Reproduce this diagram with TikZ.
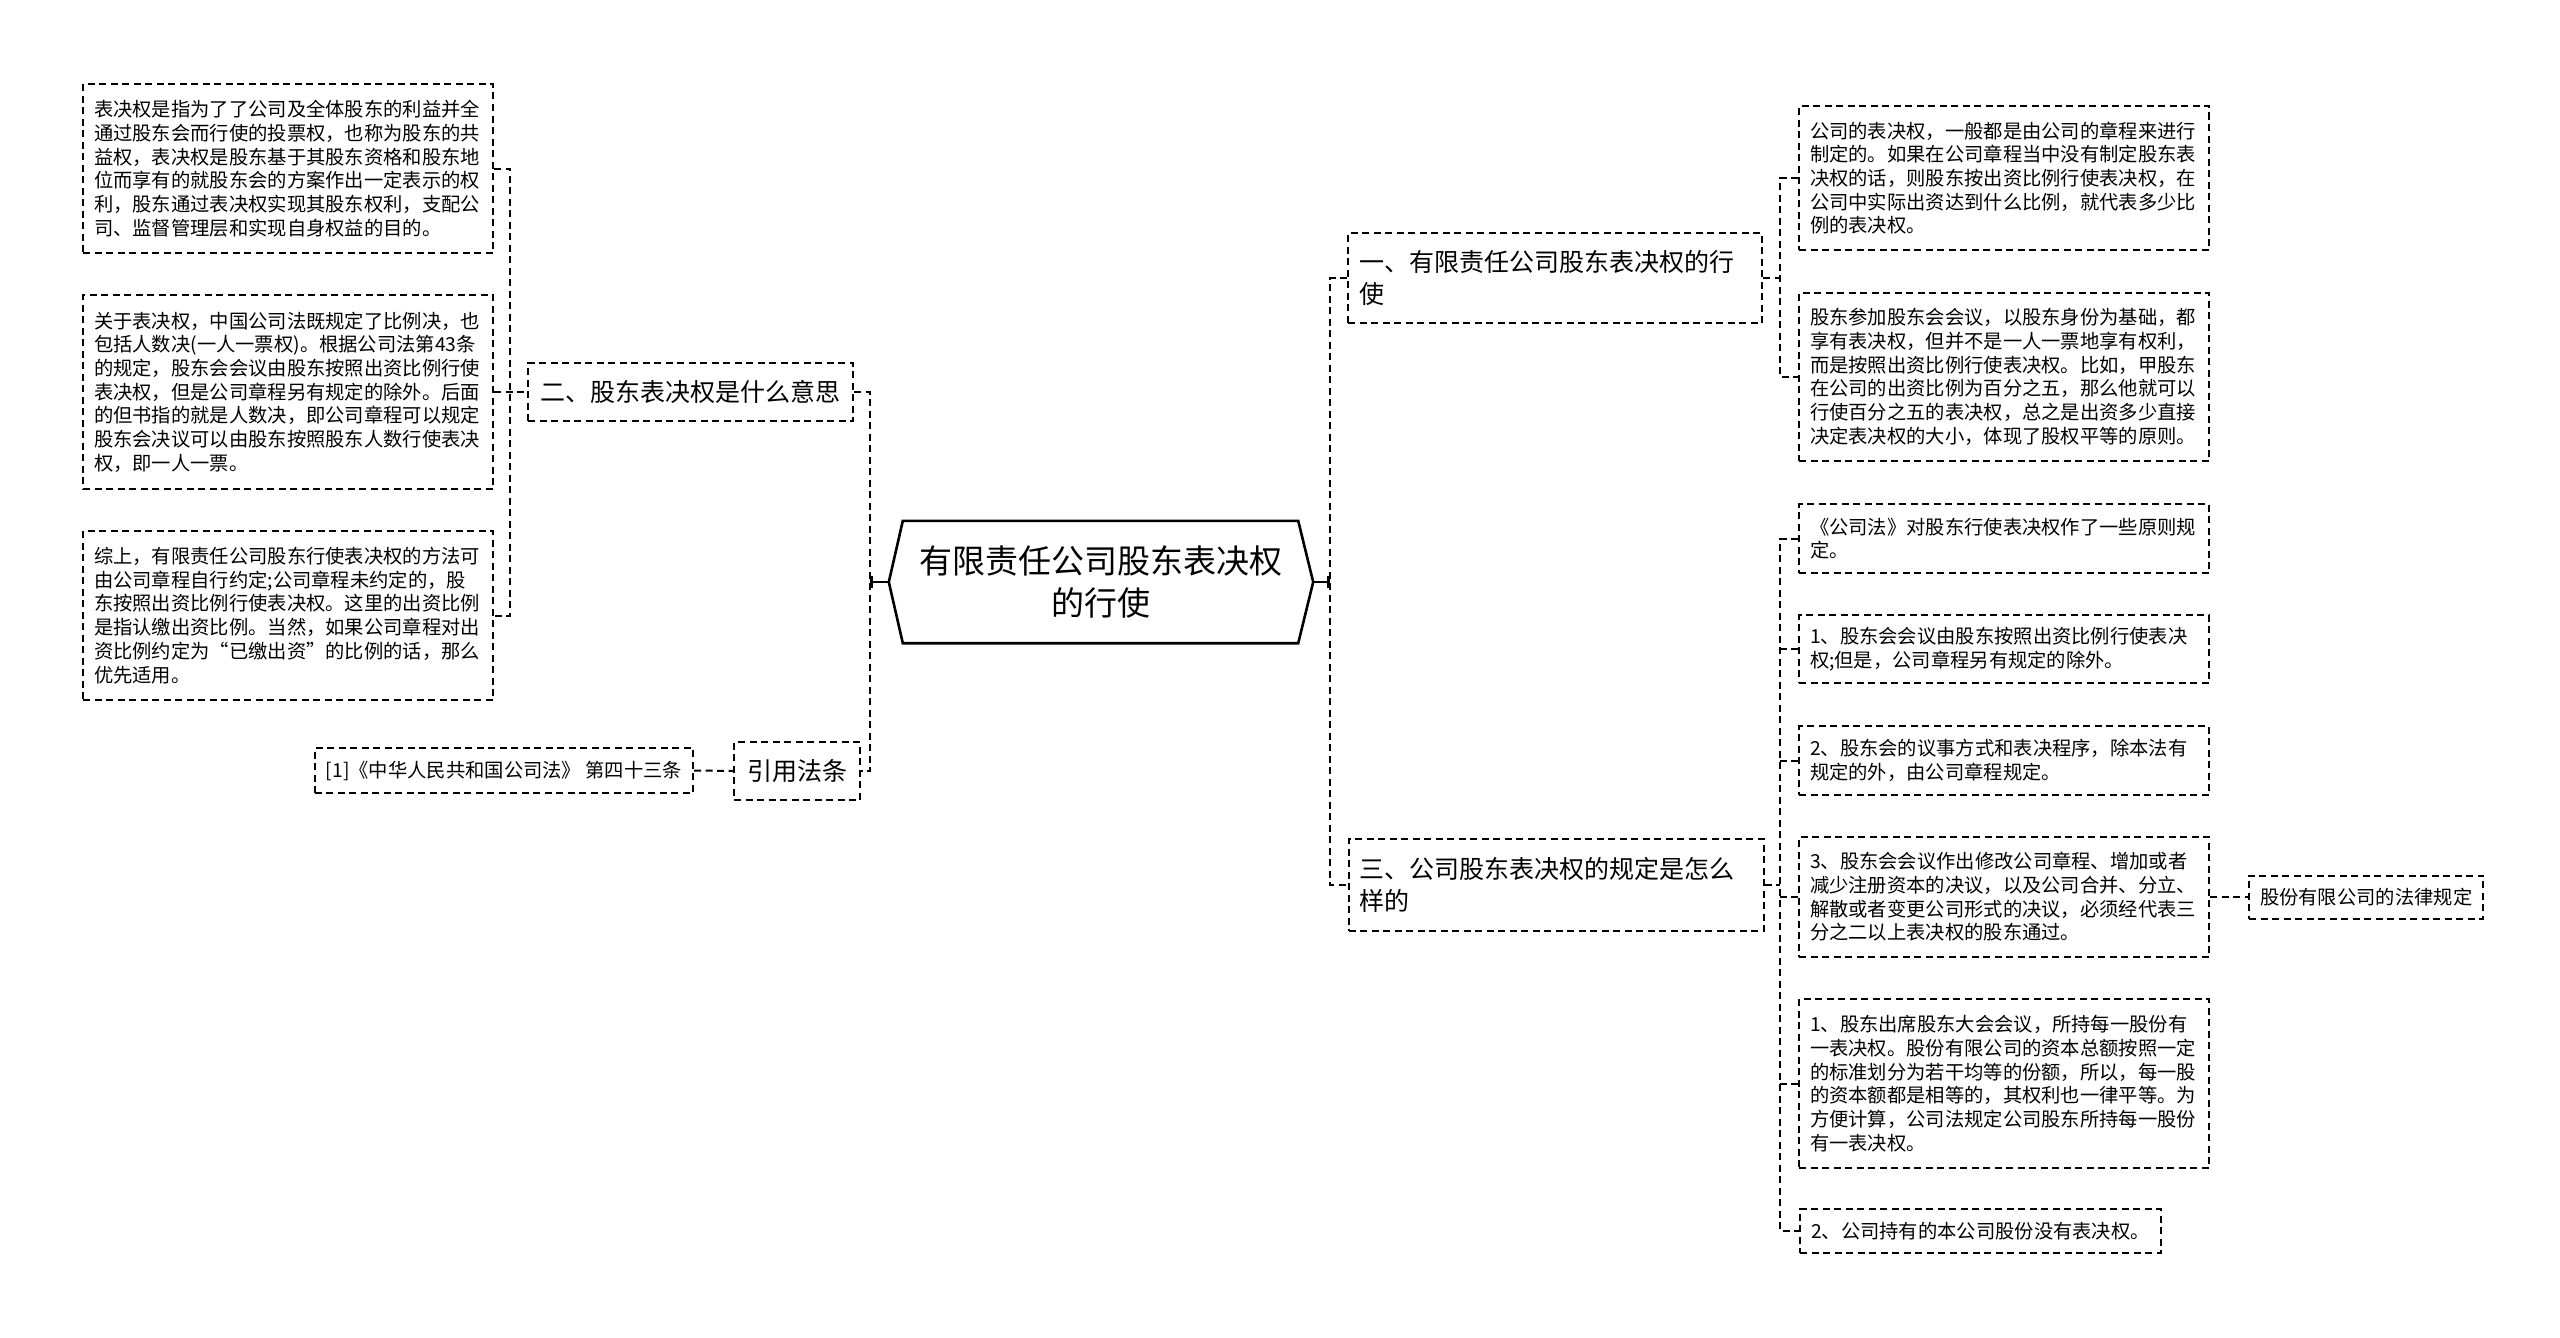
\documentclass[tikz,border=0pt]{standalone}
\usepackage{fontspec}
\setmainfont{Noto Sans CJK SC}
\usetikzlibrary{arrows.meta}
\tikzset{
  conn/.style={line width=2pt, dash pattern=on 7pt off 4.5pt},
  rootline/.style={line width=2.6pt},
  leaf/.style={draw, conn, align=left, text width=388pt, inner xsep=11pt, inner ysep=6pt,
    font=\fontsize{19.3}{23.7}\selectfont},
  smallleaf/.style={draw, conn, align=left, inner xsep=11pt, minimum height=44pt,
    font=\fontsize{19.3}{23.7}\selectfont},
  topic/.style={draw, conn, align=left, inner xsep=11pt,
    font=\fontsize{25}{32}\selectfont},
}
\begin{document}
\begin{tikzpicture}[x=1pt, y=-1pt]
    \useasboundingbox[fill=white] (0,0) rectangle (2560,1338);

    % root
    \node[align=center, minimum width=424pt, minimum height=122pt,
          font=\fontsize{33}{42}\selectfont] (root) at (1101,582)
          {有限责任公司股东表决权\\的行使};
    \draw[rootline] ([xshift=14pt]root.north west) -- ([xshift=-15pt]root.north east)
        -- (root.east) -- ([xshift=-15pt]root.south east)
        -- ([xshift=14pt]root.south west) -- (root.west) -- cycle;

    % left topics
    \node[topic, align=center, minimum width=325pt, minimum height=58pt] (meaning) at (690.5,392)
          {二、股东表决权是什么意思};
    \node[topic, align=center, minimum width=126pt, minimum height=58pt] (cite) at (797,771)
          {引用法条};
    \node[smallleaf, minimum height=45pt] (lawref) at (504,770.5)
          {[1]《中华人民共和国公司法》 第四十三条};

    % meaning details
    \node[leaf, minimum height=169pt] (meanA) at (288,168.5)
          {表决权是指为了了公司及全体股东的利益并全\\
           通过股东会而行使的投票权，也称为股东的共\\
           益权，表决权是股东基于其股东资格和股东地\\
           位而享有的就股东会的方案作出一定表示的权\\
           利，股东通过表决权实现其股东权利，支配公\\
           司、监督管理层和实现自身权益的目的。};
    \node[leaf, minimum height=194pt] (meanB) at (288,392)
          {关于表决权，中国公司法既规定了比例决，也\\
           包括人数决(一人一票权)。根据公司法第43条\\
           的规定，股东会会议由股东按照出资比例行使\\
           表决权，但是公司章程另有规定的除外。后面\\
           的但书指的就是人数决，即公司章程可以规定\\
           股东会决议可以由股东按照股东人数行使表决\\
           权，即一人一票。};
    \node[leaf, minimum height=169pt] (meanC) at (288,615.5)
          {综上，有限责任公司股东行使表决权的方法可\\
           由公司章程自行约定;公司章程未约定的，股\\
           东按照出资比例行使表决权。这里的出资比例\\
           是指认缴出资比例。当然，如果公司章程对出\\
           资比例约定为“已缴出资”的比例的话，那么\\
           优先适用。};

    % right topics
    \node[topic, text width=392pt, minimum height=90pt] (exercise) at (1555,278)
          {一、有限责任公司股东表决权的行\\使};
    \node[topic, text width=393pt, minimum height=92pt] (rules) at (1556,885)
          {三、公司股东表决权的规定是怎么\\样的};

    % exercise details
    \node[leaf, minimum height=144pt] (exerA) at (2004,178)
          {公司的表决权，一般都是由公司的章程来进行\\
           制定的。如果在公司章程当中没有制定股东表\\
           决权的话，则股东按出资比例行使表决权，在\\
           公司中实际出资达到什么比例，就代表多少比\\
           例的表决权。};
    \node[leaf, minimum height=168pt] (exerB) at (2004,377)
          {股东参加股东会会议，以股东身份为基础，都\\
           享有表决权，但并不是一人一票地享有权利，\\
           而是按照出资比例行使表决权。比如，甲股东\\
           在公司的出资比例为百分之五，那么他就可以\\
           行使百分之五的表决权，总之是出资多少直接\\
           决定表决权的大小，体现了股权平等的原则。};

    % rules details
    \node[leaf, minimum height=69pt] (ruleA) at (2004,538.5)
          {《公司法》对股东行使表决权作了一些原则规\\定。};
    \node[leaf, minimum height=68pt] (ruleB) at (2004,649)
          {1、股东会会议由股东按照出资比例行使表决\\权;但是，公司章程另有规定的除外。};
    \node[leaf, minimum height=69pt] (ruleC) at (2004,760.5)
          {2、股东会的议事方式和表决程序，除本法有\\规定的外，由公司章程规定。};
    \node[leaf, minimum height=120pt] (ruleD) at (2004,897)
          {3、股东会会议作出修改公司章程、增加或者\\
           减少注册资本的决议，以及公司合并、分立、\\
           解散或者变更公司形式的决议，必须经代表三\\
           分之二以上表决权的股东通过。};
    \node[leaf, minimum height=169pt] (ruleE) at (2004,1083.5)
          {1、股东出席股东大会会议，所持每一股份有\\
           一表决权。股份有限公司的资本总额按照一定\\
           的标准划分为若干均等的份额，所以，每一股\\
           的资本额都是相等的，其权利也一律平等。为\\
           方便计算，公司法规定公司股东所持每一股份\\
           有一表决权。};
    \node[smallleaf, anchor=west] (ruleF) at (1799,1231)
          {2、公司持有的本公司股份没有表决权。};
    \node[smallleaf, minimum height=43pt, anchor=west] (stock) at (2248,897)
          {股份有限公司的法律规定};

    % bus lines
    \coordinate (lsub) at (510,0);
    \coordinate (lbus) at (870,0);
    \coordinate (rbus) at (1330,0);
    \coordinate (rsub) at (1780,0);

    % left connectors
    \draw[rootline, -{Bar[width=12pt, line width=2.6pt]}] (root.west) -- (root.west -| lbus);
    \draw[conn] (meaning.east) -- (meaning.east -| lbus) -- (cite.east -| lbus) -- (cite.east);
    \draw[conn] (lawref.east) -- (cite.west);
    \draw[conn] (meanA.east) -- (meanA.east -| lsub) -- (meanC.east -| lsub) -- (meanC.east);
    \draw[conn] (meanB.east) -- (meaning.west);

    % right connectors
    \draw[rootline, -{Bar[width=12pt, line width=2.6pt]}] (root.east) -- (root.east -| rbus);
    \draw[conn] (exercise.west) -- (exercise.west -| rbus) -- (rules.west -| rbus) -- (rules.west);
    \draw[conn] (exercise.east) -- (exercise.east -| rsub);
    \draw[conn] (exerA.west) -- (exerA.west -| rsub) -- (exerB.west -| rsub) -- (exerB.west);
    \draw[conn] (rules.east) -- (rules.east -| rsub);
    \draw[conn] (ruleA.west) -- (ruleA.west -| rsub) -- (ruleF.west -| rsub) -- (ruleF.west);
    \draw[conn] (ruleB.west) -- (ruleB.west -| rsub);
    \draw[conn] (ruleC.west) -- (ruleC.west -| rsub);
    \draw[conn] (ruleD.west) -- (ruleD.west -| rsub);
    \draw[conn] (ruleE.west) -- (ruleE.west -| rsub);
    \draw[conn] (ruleD.east) -- (stock.west);
\end{tikzpicture}
\end{document}
